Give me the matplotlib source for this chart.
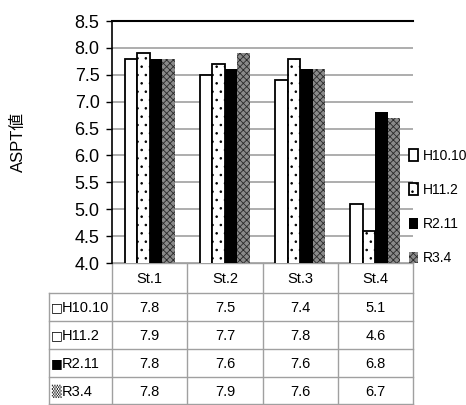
import numpy as np
import matplotlib.pyplot as plt
from matplotlib.patches import Patch

plt.rcParams['font.family'] = ['Liberation Sans', 'Noto Sans CJK JP', 'DejaVu Sans']
plt.rcParams['hatch.linewidth'] = 0.6

# データ
stations = ['St.1', 'St.2', 'St.3', 'St.4']
series = ['H10.10', 'H11.2', 'R2.11', 'R3.4']
h10_10 = [7.8, 7.5, 7.4, 5.1]
h11_2 = [7.9, 7.7, 7.8, 4.6]
r2_11 = [7.8, 7.6, 7.6, 6.8]
r3_4 = [7.8, 7.9, 7.6, 6.7]
values = [h10_10, h11_2, r2_11, r3_4]
row_marks = ['\u25a1', '\u25a1', '\u25a0', '\u2592']

styles = [
    dict(facecolor='white', edgecolor='black', linewidth=1.3, hatch=None),
    dict(facecolor='white', edgecolor='black', linewidth=1.3, hatch='..'),
    dict(facecolor='black', edgecolor='black', linewidth=0, hatch=None),
    dict(facecolor='#8a8a8a', edgecolor='#2a2a2a', linewidth=0, hatch='xxxxx'),
]

W, H = 466, 405
fig = plt.figure(figsize=(W / 100, H / 100), dpi=100)

# 表の枠（ピクセル座標）
tab = fig.add_axes([0, 0, 1, 1], zorder=-1)
tab.set_xlim(0, W)
tab.set_ylim(H, 0)
tab.axis('off')

ax = fig.add_axes([112 / W, 1 - 263 / H, 301 / W, 242 / H])
ax.patch.set_alpha(0)

x = np.arange(len(stations))
w = 0.166
for i, (vals, st) in enumerate(zip(values, styles)):
    ax.bar(x + (i - 1.5) * w, vals, w, label=series[i], zorder=3, **st)

ax.set_xlim(-0.5, 3.5)
ax.set_ylim(4.0, 8.5)
ticks = np.arange(4.0, 8.51, 0.5)
ax.set_yticks(ticks)
ax.set_yticklabels([f'{v:.1f}' for v in ticks], fontsize=13)
ax.yaxis.grid(True, color='#a0a0a0', linewidth=1.2, zorder=0)
ax.set_xticks([])
ax.tick_params(axis='y', length=4, width=1, direction='out', pad=5)
ax.spines['right'].set_visible(False)
ax.spines['bottom'].set_visible(False)
ax.spines['top'].set_linewidth(1.5)
ax.spines['left'].set_linewidth(1.2)
ax.set_ylabel('ASPT値', fontsize=12)
ax.yaxis.set_label_coords(-0.285, 0.5)

# データテーブル
col_x = np.linspace(112, 413, len(stations) + 1)
row_y = [263, 293, 321, 349, 377, 404]
lc = '#a0a0a0'
tab.plot([112, 413], [row_y[0]] * 2, color=lc, lw=1)
for y in row_y[1:]:
    tab.plot([49, 413], [y, y], color=lc, lw=1)
tab.plot([49, 49], [row_y[1], row_y[-1]], color=lc, lw=1)
for cx in col_x:
    tab.plot([cx, cx], [row_y[0], row_y[-1]], color=lc, lw=1)
for j, s in enumerate(stations):
    tab.text((col_x[j] + col_x[j + 1]) / 2, (row_y[0] + row_y[1]) / 2 + 1, s,
             ha='center', va='center', fontsize=10.5)
for i, vals in enumerate(values):
    yc = (row_y[i + 1] + row_y[i + 2]) / 2 + 1
    tab.text(51, yc, row_marks[i], ha='left', va='center', fontsize=9,
             family=['DejaVu Sans'], color='#333333' if i == 3 else 'black')
    tab.text(62, yc, series[i], ha='left', va='center', fontsize=10.5)
    for j, v in enumerate(vals):
        tab.text((col_x[j] + col_x[j + 1]) / 2, yc, f'{v:.1f}',
                 ha='center', va='center', fontsize=10.5)

# 凡例
handles = [Patch(label=series[i], **styles[i]) for i in range(4)]
fig.legend(handles=handles, loc='center left', bbox_to_anchor=(403 / W, 1 - 207 / H),
           frameon=False, fontsize=10, labelspacing=1.45, handlelength=0.7,
           handleheight=0.9, handletextpad=0.3, borderaxespad=0)

plt.savefig('out.png', dpi=100)
